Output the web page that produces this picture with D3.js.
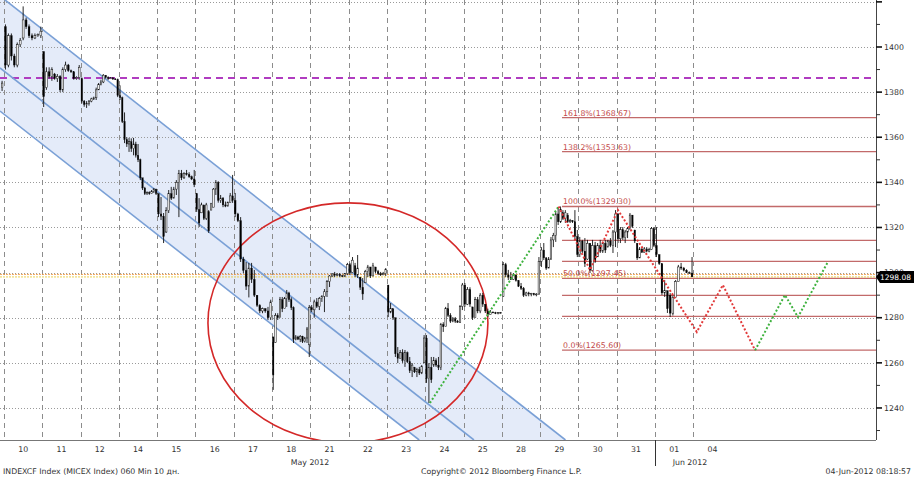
<!DOCTYPE html>
<html><head><meta charset="utf-8">
<script src="https://cdn.jsdelivr.net/npm/d3@7"></script>
<style>body{margin:0;background:#fff;}svg{display:block;}</style>
</head><body><svg id="c" width="914" height="477"></svg>
<script>
// ---------------- DATA ----------------
const dayLabels = ["10","11","12","14","15","16","17","18","21","22","23","24","25","28","29","30","31","01","04"];
const monthLabels = ["May 2012","Jun 2012"];
const priceTicks = [1240,1260,1280,1300,1320,1340,1360,1380,1400,1420];
const minorTicks = [1230,1250,1270,1290,1310,1330,1350,1370,1390,1410];

// hourly candles [open, high, low, close]
const barsPrev = [[1382,1385,1380.5,1384]];
const bars10 = [[1409,1410,1390,1392],[1392,1406,1391,1405],[1405,1406,1394,1396],[1396,1397,1391,1392],[1392,1402,1391,1401],[1401,1404,1400,1403],[1404,1418,1403,1412],[1412,1413,1408,1409],[1409,1410,1404,1405],[1405,1406,1403,1404],[1404,1406,1403.5,1405],[1405,1406,1404.5,1405.5],[1405,1409,1404,1407]];
const bars11 = [[1398,1398,1373.4,1378],[1382,1391,1381,1389],[1389,1391,1386,1387],[1387,1391,1385,1390],[1388,1388.5,1385.5,1386],[1386,1388,1384.5,1387],[1387,1387.5,1380,1381],[1381,1391,1380,1390],[1390,1393.5,1389,1392],[1392,1392.5,1389,1389.5],[1389.5,1390,1388.5,1389],[1389,1389,1385.5,1386],[1386,1387,1385.5,1386.5],[1386.5,1392,1385.5,1391]];
const bars12 = [[1386,1386.5,1375,1376],[1376,1376.5,1373.5,1374.5],[1374.5,1376,1373,1375],[1375,1376.5,1374,1376],[1376,1377.5,1375.5,1377],[1377,1378,1376.5,1377.5],[1377.5,1382,1376.5,1381],[1381,1384,1381,1383.5],[1383.5,1385.5,1383,1384.5],[1384.5,1388,1384,1387.5],[1387.5,1387.6,1386,1386.5],[1386.5,1387,1385.4,1386],[1386,1386.7,1385.8,1386.3],[1386.3,1386.7,1385.4,1385.8],[1385.8,1386.2,1385.4,1385.6],[1385.6,1386,1377.8,1378.5]];
const bars14 = [[1378.5,1383,1376.5,1377.5],[1377.5,1378,1366.3,1367],[1367,1371,1357.4,1359],[1359,1360,1355.7,1357],[1357,1359.7,1353.5,1358],[1358,1359.5,1353.5,1355],[1355,1359.7,1352,1357],[1357,1358,1351,1352],[1352,1357,1349,1350],[1350,1350.5,1341,1342],[1342,1342,1336.6,1337.5],[1337.5,1338,1334.4,1335],[1335,1336,1334.4,1335.5],[1335.5,1336,1334.5,1335],[1335,1336.6,1335,1336],[1336,1337.5,1335.3,1337],[1337,1337.2,1334.4,1335]];
const bars15 = [[1335,1335,1324.6,1326],[1326,1333.5,1323.3,1325],[1325,1326.4,1313.1,1316],[1318,1329,1317.6,1327.5],[1327.5,1336.6,1326.4,1335],[1335,1338,1332.2,1333],[1333,1338,1333,1337],[1337,1341,1334.4,1340],[1340,1345.5,1324.6,1344],[1344,1345.5,1341,1342],[1342,1344.5,1341.5,1344],[1344,1345.5,1343,1343.5],[1343.5,1344.5,1342,1342.5],[1342.5,1343,1341,1341.5],[1341.5,1345.5,1337.9,1339]];
const bars16 = [[1335,1335.3,1326.9,1328],[1328,1333,1320.2,1322],[1326.5,1331,1326.4,1330],[1330,1330,1323.3,1324],[1324,1330.9,1323.3,1330],[1327,1327.7,1317.6,1318.5],[1327.7,1330.9,1327.7,1330.5],[1329,1337.5,1329,1337],[1337,1341,1334.4,1340],[1340,1340.5,1331,1332],[1332,1334.4,1330.9,1333],[1333,1333.5,1329,1330],[1330,1331.5,1329,1329.5],[1329.5,1331.5,1329.3,1331],[1331,1335.3,1331,1334],[1334,1343.3,1330.9,1332]];
const bars17 = [[1332,1335.3,1324.6,1326],[1326,1326.5,1322.4,1323],[1323,1324.6,1304.7,1306],[1306,1307,1299.8,1301],[1301,1304.7,1292.3,1294],[1294,1304.3,1289,1302],[1302,1304.3,1295.4,1297],[1297,1301.2,1289.2,1290],[1290,1290,1284.8,1285.5],[1285.5,1286,1282,1283],[1283,1284.5,1282,1284],[1284,1284.2,1282.2,1283],[1283,1284.8,1279,1280],[1280,1288,1279,1287]];
const bars18 = [[1271.5,1271.5,1248,1254.6],[1269,1282,1268.8,1281],[1281,1282,1279,1280],[1280,1289.2,1280,1288],[1288,1289.2,1282.5,1284],[1284,1289.2,1284,1288.5],[1288.5,1292.3,1284.8,1291],[1291,1291.5,1287,1288],[1288,1289,1283.4,1284.5],[1284.5,1285,1268.8,1270.5],[1270.5,1272.3,1270,1271.5],[1271.5,1272,1270.1,1270.5],[1270.5,1272.3,1269.2,1271.8],[1271.8,1272,1268.8,1269.5],[1269.5,1271.5,1269,1271],[1271,1275.9,1268.8,1275],[1268,1285.6,1262.6,1284.5]];
const bars21 = [[1284.5,1285.6,1282.5,1283.5],[1283.5,1288,1280,1287],[1287,1288.7,1284.3,1285],[1285,1289.2,1283.4,1288.5],[1288.5,1290,1287,1289.5],[1289.5,1292.7,1282.5,1291.5],[1291.5,1296.7,1289.2,1296],[1296,1298.9,1293.6,1298.5],[1298.5,1299.8,1298,1299.4],[1299.4,1300.3,1298,1298.8],[1298.8,1299.8,1298.4,1299.2],[1299.2,1299.8,1298,1298.6],[1298.6,1299,1298,1298.4],[1298.4,1299.8,1298,1299.5],[1299.5,1304.3,1298.9,1303.5]];
const bars22 = [[1303.5,1304.3,1298.9,1300],[1300,1306.9,1299.8,1305.5],[1303,1304.3,1298,1299],[1299,1307.8,1297.6,1302],[1298,1298,1292.3,1293.5],[1293.5,1297.6,1287.9,1290.5],[1295.5,1301.2,1295.4,1300.5],[1300.5,1303.4,1298,1302.5],[1302.5,1302.5,1297.6,1298.5],[1298.5,1304.3,1298.4,1303],[1302.5,1302.5,1299.8,1300.5],[1300.5,1301.2,1298.9,1299.5],[1299.5,1300.3,1298.5,1299],[1299,1300.3,1298.9,1299.6],[1299.6,1302,1298.5,1301.5]];
const bars23 = [[1294.5,1294.5,1280.3,1282.5],[1282.5,1286.5,1282,1284],[1284,1284,1279,1280],[1280,1280,1262.6,1264],[1264,1267,1259.9,1262],[1262,1265.7,1262,1264.5],[1264.5,1266,1260,1261],[1261,1265.7,1258.2,1264.5],[1264.5,1265,1259.9,1260.5],[1260.5,1262.6,1255.5,1256.5],[1256.5,1259.9,1253.7,1259],[1258,1258.2,1255.5,1256],[1256,1257.8,1253.7,1257],[1257,1258.2,1254.6,1255.5],[1255.5,1259,1255,1258.5],[1260,1272.3,1259.9,1271]];
const bars24 = [[1271,1272.3,1251.1,1253],[1253,1259.9,1242.2,1258],[1258,1262.6,1251.1,1252.5],[1259,1262.6,1258.2,1261],[1261,1262,1258.2,1259],[1259,1262.6,1256.8,1258],[1258,1277.7,1256.8,1277],[1277,1278,1273.7,1276],[1276,1284.8,1276,1284],[1284,1286.5,1280.3,1281],[1281,1282,1277.7,1278.5],[1278.5,1280.3,1278,1279.5],[1279.5,1280.3,1277.7,1278.5],[1278.5,1279,1277.7,1278],[1278,1285.6,1277.7,1285],[1285,1295.4,1283.4,1294.5]];
const bars25 = [[1294.5,1295.4,1284.8,1286],[1286,1293.6,1285.6,1292.5],[1292.5,1293.5,1284.8,1286],[1284.8,1284.8,1279,1280],[1280,1289.2,1280,1288],[1288,1289.2,1282,1283],[1283,1290.9,1282,1290],[1290,1291,1284.8,1286],[1286,1286,1282.1,1283],[1283,1284,1280.3,1281.5],[1281.5,1283.4,1281.5,1282.5],[1282.5,1282.8,1282,1282.2],[1282.2,1282.6,1281.6,1282],[1282,1282.5,1281.5,1282.3],[1282.3,1282.5,1281.9,1282.1]];
const bars28 = [[1289.5,1304.7,1289.2,1303.5],[1303.5,1304.3,1298,1299],[1299,1301.2,1296.7,1298],[1298,1300.3,1296.7,1297],[1297,1299.8,1296.7,1299],[1299,1299,1296,1296.5],[1296.5,1296.7,1293.6,1294],[1294,1295.4,1292.3,1293],[1293,1293.6,1289.2,1290],[1290,1291.5,1289.5,1291],[1291,1291.5,1289.5,1290.5],[1290.5,1291,1289.5,1290.8],[1290.8,1291,1289.8,1290.2],[1290.2,1290.9,1289.5,1290.5],[1290.5,1306.9,1290.2,1305]];
const bars29 = [[1305,1311.3,1302.5,1310],[1310,1313.1,1305.6,1306.5],[1306.5,1306.9,1301.2,1302],[1302,1306.9,1302,1306],[1306,1315.8,1305.6,1314.5],[1314.5,1317.6,1311.3,1316.5],[1316.5,1326.9,1313.6,1326],[1326,1328.6,1321.1,1322.5],[1322.5,1329.3,1322,1328],[1326.5,1327.7,1323.3,1324],[1324,1327.7,1322,1326.5],[1325.5,1326.4,1322,1322.5],[1322.5,1323.8,1322,1323],[1323,1323.3,1322,1322.5],[1322.5,1327.7,1314.5,1316],[1316,1318.9,1306.9,1308]];
const bars30 = [[1308,1315.8,1306.9,1314],[1314,1314.5,1308.7,1309.5],[1309.5,1315.3,1302.5,1304],[1306,1314.5,1305.6,1313],[1313,1313.1,1299.8,1301],[1301,1314.5,1300.5,1312],[1312,1313.6,1304.3,1305],[1307,1313.1,1306.9,1312],[1312,1314.5,1308.7,1309.5],[1309.5,1313.6,1308.7,1313],[1313,1314.5,1308.7,1310],[1311.3,1314.5,1311.3,1314],[1314,1315.3,1311.3,1312],[1312,1318.9,1308.7,1318],[1318,1327.7,1311.3,1326]];
const bars31 = [[1326,1326.4,1313.1,1315],[1315,1320.2,1313.1,1319],[1319,1320.2,1314.5,1315.5],[1315.5,1318.9,1313.1,1318],[1318,1320.2,1315.3,1319.5],[1319.5,1326.4,1318.9,1325.5],[1325.5,1325.5,1319.8,1320.5],[1318.9,1318.9,1313.1,1314],[1313,1313.1,1305.6,1306.5],[1306.5,1311.3,1306.5,1310.5],[1310.5,1310.8,1308.7,1309],[1309,1311.3,1308.9,1310.5],[1310.5,1311.3,1309,1309.5],[1309.5,1311,1309,1310.2],[1310.2,1320.2,1310,1319.5],[1319.5,1320.2,1311.3,1312]];
const bars01 = [[1312,1320.2,1306.9,1308],[1308,1308,1303.4,1304],[1304,1304,1290.1,1291],[1291,1296.7,1289.2,1292],[1292,1292,1282.1,1284],[1290,1290.9,1280.3,1282],[1282,1290,1281,1289],[1289,1296.7,1289,1296],[1296,1303.4,1296,1302.5],[1302.5,1304.3,1301.2,1302],[1302,1302.5,1300.5,1301],[1301,1301.5,1299.8,1300],[1300,1300.5,1299.5,1299.8],[1299.8,1306.9,1298,1298.1]];
const barsByDay = [bars10,bars11,bars12,bars14,bars15,bars16,bars17,bars18,bars21,bars22,bars23,bars24,bars25,bars28,bars29,bars30,bars31,bars01];

// annotations (x in trading-day units from 10 May, y in index points)
const channelUpper = [[-0.105,1422.6],[14.66,1225.8]];
const channelMiddle = [[-0.105,1390.7],[12.27,1225.8]];
const channelLower = [[-0.105,1371.6],[10.84,1225.8]];
const ellipseZone = {cx:8.98, cy:1277.7, rx:3.655, ry:53.2};
const resistance = 1386.3;
const lastPrice = 1298.08;
const orangeLevel = 1299.2;
const trendUp = [[11.12,1242.2],[14.48,1329.3]];
const projRed = [[14.48,1329.3],[15.30,1301.2],[16.03,1327.7],[18.09,1273.7],[18.77,1294.5],[19.61,1265.6]];
const projGreen = [[19.61,1265.6],[20.39,1290.1],[20.73,1280.3],[21.51,1304.7]];
const fibNames = ["161.8%","138.2%","100.0%","76.4%","61.8%","50.0%","38.2%","23.6%","0.0%"];
const fibValues = [1368.67,1353.63,1329.30,1314.27,1304.97,1297.45,1289.93,1280.63,1265.60];
const fibShown = [true,true,true,false,false,true,false,false,true];
const fibStartDay = 14.57;

// ---------------- CHART ----------------
const svg = d3.select("#c");
const PW = 876, PB = 440, DAYPX = 38.3;
const x = d3.scaleLinear().domain([-4/DAYPX, (PW-4)/DAYPX]).range([0, PW]);
const y = d3.scaleLinear().domain([1225.8, 1420.83]).range([PB, 0]);
const FONT = "DejaVu Sans, Verdana, sans-serif";

svg.append("defs").append("clipPath").attr("id","clip")
  .append("rect").attr("x",0).attr("y",0).attr("width",PW).attr("height",PB);
const plot = svg.append("g").attr("clip-path","url(#clip)");

// channel fill
const poly = [channelUpper[0], channelUpper[1], channelLower[1], channelLower[0]];
plot.append("path").attr("d", d3.line().x(d=>x(d[0])).y(d=>y(d[1]))(poly)+"Z")
  .attr("fill","#e4ebf9");

// horizontal grid
plot.selectAll(".hg").data(priceTicks).enter().append("line")
  .attr("x1",0).attr("x2",PW).attr("y1",d=>Math.round(y(d))+0.5).attr("y2",d=>Math.round(y(d))+0.5)
  .attr("stroke","#9a9a9a").attr("stroke-width",1).attr("stroke-dasharray","1,2");

// vertical grid (day boundaries)
const dayIdx = d3.range(0, dayLabels.length);
plot.selectAll(".vg").data(dayIdx).enter().append("line")
  .attr("x1",d=>Math.round(x(d))+0.5).attr("x2",d=>Math.round(x(d))+0.5).attr("y1",0).attr("y2",PB)
  .attr("stroke","#8c8c8c").attr("stroke-width",1).attr("stroke-dasharray","5,4");

// fibonacci lines
plot.selectAll(".fib").data(fibValues).enter().append("line")
  .attr("x1",x(fibStartDay)).attr("x2",PW).attr("y1",d=>y(d)).attr("y2",d=>y(d))
  .attr("stroke","#c26a6a").attr("stroke-width",1.3);

// resistance magenta dashed
plot.append("line").attr("x1",0).attr("x2",PW).attr("y1",y(resistance)).attr("y2",y(resistance))
  .attr("stroke","#b03cc0").attr("stroke-width",2).attr("stroke-dasharray","7,5");

// orange / yellow price lines
plot.append("line").attr("x1",0).attr("x2",PW).attr("y1",y(orangeLevel)).attr("y2",y(orangeLevel))
  .attr("stroke","#f09a40").attr("stroke-width",0.9).attr("stroke-dasharray","2,1");
plot.append("line").attr("x1",0).attr("x2",PW).attr("y1",y(lastPrice)).attr("y2",y(lastPrice))
  .attr("stroke","#e8cc40").attr("stroke-width",0.9).attr("stroke-dasharray","2,1");

// channel lines
[channelUpper, channelMiddle, channelLower].forEach(l=>{
  plot.append("line").attr("x1",x(l[0][0])).attr("y1",y(l[0][1])).attr("x2",x(l[1][0])).attr("y2",y(l[1][1]))
    .attr("stroke","#7aa0d6").attr("stroke-width",1.6);
});

// ellipse
plot.append("ellipse").attr("cx",x(ellipseZone.cx)).attr("cy",y(ellipseZone.cy))
  .attr("rx",x(ellipseZone.rx)-x(0)).attr("ry",y(1225.8)-y(1225.8+ellipseZone.ry))
  .attr("fill","none").attr("stroke","#d42828").attr("stroke-width",1.6);

// candles
const candles = [];
barsPrev.forEach(b=>candles.push({pos:-0.05, b, n:15}));
barsByDay.forEach((arr,k)=>{
  arr.forEach((b,i)=>candles.push({pos:k+(i+0.5)/arr.length, b, n:arr.length}));
});
const cg = plot.append("g");
candles.forEach(c=>{
  const [o,h,l,cl] = c.b;
  const cx = x(c.pos);
  const bw = Math.min(1.9, DAYPX/c.n*0.65);
  cg.append("line").attr("x1",cx).attr("x2",cx).attr("y1",y(h)).attr("y2",y(l))
    .attr("stroke","#111").attr("stroke-width",0.9);
  const top = y(Math.max(o,cl)), bot = y(Math.min(o,cl));
  const up = cl >= o;
  cg.append("rect").attr("x",cx-bw/2).attr("y",top).attr("width",bw).attr("height",Math.max(0.8,bot-top))
    .attr("fill", up ? "#f4f4f4" : "#000").attr("stroke", "#111").attr("stroke-width", up?0.5:0.3);
});

// trend and projection zigzags
const ln = d3.line().x(d=>x(d[0])).y(d=>y(d[1]));
plot.append("path").attr("d",ln(trendUp)).attr("fill","none")
  .attr("stroke","#3fb23f").attr("stroke-width",2).attr("stroke-dasharray","2,2");
plot.append("path").attr("d",ln(projRed)).attr("fill","none")
  .attr("stroke","#e23a3a").attr("stroke-width",2).attr("stroke-dasharray","2,2");
plot.append("path").attr("d",ln(projGreen)).attr("fill","none")
  .attr("stroke","#3fb23f").attr("stroke-width",2).attr("stroke-dasharray","2,2");

// fib labels
fibValues.forEach((v,i)=>{
  if(!fibShown[i]) return;
  plot.append("text").attr("x",x(fibStartDay)+1).attr("y",y(v)-2)
    .attr("font-family",FONT).attr("font-size","7.8px").attr("fill","#c44a4a")
    .text(fibNames[i]+"("+v.toFixed(2)+")");
});

// axes frame
svg.append("line").attr("x1",PW+0.5).attr("x2",PW+0.5).attr("y1",0).attr("y2",PB)
  .attr("stroke","#444").attr("stroke-width",1);
svg.append("line").attr("x1",0).attr("x2",PW).attr("y1",PB+0.5).attr("y2",PB+0.5)
  .attr("stroke","#777").attr("stroke-width",1);

// y ticks & labels
svg.selectAll(".mt").data(priceTicks).enter().append("line")
  .attr("x1",PW).attr("x2",PW+6).attr("y1",d=>y(d)).attr("y2",d=>y(d))
  .attr("stroke","#111").attr("stroke-width",1.6);
svg.selectAll(".mn").data(minorTicks.filter(v=>y(v)>=0&&y(v)<=PB)).enter().append("line")
  .attr("x1",PW).attr("x2",PW+4).attr("y1",d=>y(d)).attr("y2",d=>y(d))
  .attr("stroke","#333").attr("stroke-width",1);
svg.selectAll(".yl").data(priceTicks.filter(v=>y(v)>8)).enter().append("text")
  .attr("x",PW+8).attr("y",d=>y(d)).attr("dy","0.35em")
  .attr("font-family",FONT).attr("font-size","7.8px").attr("fill","#333").text(d=>d);

// last price tag
const ly = y(lastPrice);
svg.append("path").attr("d",`M${PW},${ly} L${PW+4},${ly-6} L914,${ly-6} L914,${ly+6} L${PW+4},${ly+6} Z`).attr("fill","#000");
svg.append("text").attr("x",PW+4).attr("y",ly).attr("dy","0.36em")
  .attr("font-family",FONT).attr("font-size","7.5px").attr("fill","#fff").text(lastPrice.toFixed(2));

// x labels
svg.selectAll(".xl").data(dayLabels).enter().append("text")
  .attr("x",(d,i)=>x(i+0.5)).attr("y",452).attr("text-anchor","middle")
  .attr("font-family",FONT).attr("font-size","7.8px").attr("fill","#333").text(d=>d);
svg.append("line").attr("x1",Math.round(x(17))+0.5).attr("x2",Math.round(x(17))+0.5).attr("y1",PB).attr("y2",466)
  .attr("stroke","#333").attr("stroke-width",1);
svg.append("text").attr("x",x(7.99)).attr("y",465).attr("text-anchor","middle")
  .attr("font-family",FONT).attr("font-size","7.8px").attr("fill","#333").text(monthLabels[0]);
svg.append("text").attr("x",x(17.91)).attr("y",465).attr("text-anchor","middle")
  .attr("font-family",FONT).attr("font-size","7.8px").attr("fill","#333").text(monthLabels[1]);

// footer
svg.append("text").attr("x",3).attr("y",474).attr("font-family",FONT).attr("font-size","7.8px").attr("fill","#333")
  .text("INDEXCF Index (MICEX Index) 060 Min 10 дн.");
svg.append("text").attr("x",421).attr("y",474).attr("font-family",FONT).attr("font-size","7.8px").attr("fill","#333")
  .text("Copyright© 2012 Bloomberg Finance L.P.");
svg.append("text").attr("x",911).attr("y",474).attr("text-anchor","end").attr("font-family",FONT).attr("font-size","7.8px").attr("fill","#333")
  .text("04-Jun-2012 08:18:57");
</script></body></html>
